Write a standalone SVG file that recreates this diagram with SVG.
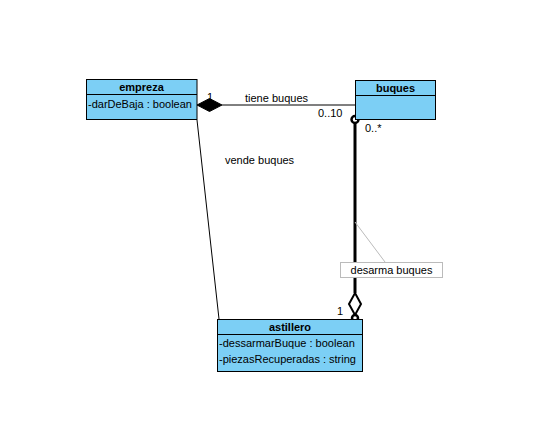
<svg xmlns="http://www.w3.org/2000/svg" width="549" height="443" viewBox="0 0 549 443">
<style>
.box{fill:#7ccff5;stroke:#000;stroke-width:1}
.t{font-family:"Liberation Sans",Arial,sans-serif;font-size:11px;fill:#000}
.b{font-weight:bold;text-anchor:middle}
.ln{fill:none;stroke:#000;stroke-width:1}
</style>
<rect width="549" height="443" fill="#fff"/>
<g id="connectors">
  <line class="ln" x1="222" y1="105" x2="355" y2="105"/>
  <polygon points="197,105 209.5,98.5 222,105 209.5,111.5" fill="#000" stroke="#000"/>
  <text class="t" x="207" y="101">1</text>
  <text class="t" x="245" y="102">tiene buques</text>
  <text class="t" x="318" y="117">0..10</text>
  <line class="ln" x1="197" y1="120" x2="219" y2="319"/>
  <text class="t" x="225" y="164">vende buques</text>
  <line x1="355" y1="123" x2="355" y2="293" stroke="#000" stroke-width="3"/>
  <circle cx="355" cy="119.5" r="3.5" fill="#fff" stroke="#000" stroke-width="2.5"/>
  <polygon points="355,293 361,304 355,315 349,304" fill="#fff" stroke="#000" stroke-width="2"/>
  <circle cx="355" cy="318" r="3" fill="#fff" stroke="#000" stroke-width="2.5"/>
  <text class="t" x="365" y="132">0..*</text>
  <text class="t" x="337" y="315">1</text>
  <line x1="355" y1="222" x2="385" y2="262" stroke="#bbb" stroke-width="1"/>
  <rect x="340.5" y="262.5" width="102" height="15" fill="#fff" stroke="#bbb"/>
  <text class="t" x="391.5" y="274" text-anchor="middle">desarma buques</text>
</g>
<g id="empreza">
  <rect class="box" x="86.5" y="79.5" width="110.5" height="40"/>
  <line class="ln" x1="86.5" y1="94.5" x2="197" y2="94.5"/>
  <text class="t b" x="141.5" y="91">empreza</text>
  <text class="t" x="88" y="108">-darDeBaja : boolean</text>
</g>
<g id="buques">
  <rect class="box" x="355.5" y="80.5" width="80" height="39"/>
  <line class="ln" x1="355.5" y1="95.5" x2="435.5" y2="95.5"/>
  <text class="t b" x="395.5" y="92">buques</text>
</g>
<g id="astillero">
  <rect class="box" x="217.5" y="319.5" width="145" height="52"/>
  <line class="ln" x1="217.5" y1="334.5" x2="362.5" y2="334.5"/>
  <text class="t b" x="290" y="331">astillero</text>
  <text class="t" x="219" y="347">-dessarmarBuque : boolean</text>
  <text class="t" x="219" y="363">-piezasRecuperadas : string</text>
</g>
</svg>
